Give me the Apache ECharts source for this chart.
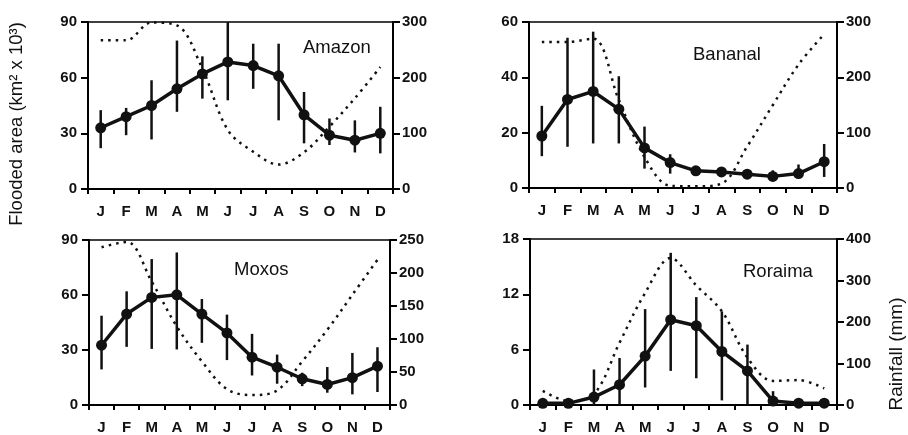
<!DOCTYPE html>
<html>
<head>
<meta charset="utf-8">
<script src="https://cdn.jsdelivr.net/npm/echarts@6/dist/echarts.min.js"></script>
<style>
  html, body { margin: 0; padding: 0; background: #fff; }
  #chart { width: 908px; height: 435px; }
</style>
</head>
<body>
<div id="chart"></div>
<script>
const months = ['J', 'F', 'M', 'A', 'M', 'J', 'J', 'A', 'S', 'O', 'N', 'D']
const sites = ['Amazon', 'Bananal', 'Moxos', 'Roraima']

// flooded area (km2 x 10^3): mean, error low, error high
const amazonArea = [33, 39, 45, 54, 62, 68.5, 66.5, 61, 40, 29, 26.3, 30]
const amazonLow = [22, 29, 26.7, 41.6, 48.7, 47.8, 54, 37, 24.6, 23.7, 19.7, 19.2]
const amazonHigh = [42.5, 43.7, 58.6, 80, 71.5, 90, 78.3, 78.3, 52.3, 38, 37, 44.3]
const bananalArea = [18.8, 32, 34.9, 28.5, 14.5, 9.2, 6.2, 5.8, 5, 4.2, 5.2, 9.5]
const bananalLow = [11.5, 14.9, 16.1, 16.1, 7, 5.2, 5.4, 5.2, 4, 2.8, 4, 4]
const bananalHigh = [29.7, 54.3, 56.5, 40.4, 22.2, 12.2, 7, 6.7, 6.2, 6.4, 8.5, 15.9]
const moxosArea = [32.6, 49.6, 58.7, 60.1, 49.6, 39.3, 26.1, 20.6, 14.3, 11.2, 14.9, 21.2]
const moxosLow = [19.4, 31.7, 30.6, 30.3, 33.9, 24.5, 16.1, 11.6, 10.3, 6.7, 5.8, 7.1]
const moxosHigh = [48.7, 62, 79.6, 83.2, 57.8, 49.3, 38.8, 27.5, 17.6, 20.7, 28.4, 31.5]
const roraimaArea = [0.18, 0.18, 0.86, 2.2, 5.3, 9.25, 8.6, 5.8, 3.7, 0.43, 0.2, 0.2]
const roraimaLow = [0.18, 0.18, 0, 0, 1.9, 3.7, 2.9, 0.5, 0, 0, 0.2, 0.2]
const roraimaHigh = [0.18, 0.18, 3.85, 5.1, 10.4, 16.5, 11.7, 10.15, 6.55, 1.5, 0.2, 0.2]

// rainfall (mm)
const amazonRain = [267, 267, 299, 294, 216, 106, 67, 44, 66, 112, 163, 219]
const bananalRain = [264, 264, 270, 159, 56, 4, 3, 8, 75, 150, 223, 278]
const moxosRain = [239, 247, 187, 119, 66, 24, 15, 22, 66, 114, 167, 220]
const roraimaRain = [34, 10, 26, 150, 270, 354, 288, 226, 114, 58, 60, 40]

// axis ranges [max, interval] for area and rainfall
const areaAxes = [[90, 30], [60, 20], [90, 30], [18, 6]]
const rainAxes = [[300, 100], [300, 100], [250, 50], [400, 100]]

const areas = [amazonArea, bananalArea, moxosArea, roraimaArea]
const lows = [amazonLow, bananalLow, moxosLow, roraimaLow]
const highs = [amazonHigh, bananalHigh, moxosHigh, roraimaHigh]
const rains = [amazonRain, bananalRain, moxosRain, roraimaRain]

const grids = [
  { left: 88, top: 22, width: 305, height: 167 },
  { left: 529, top: 22, width: 308, height: 166 },
  { left: 89, top: 240, width: 301, height: 166 },
  { left: 530, top: 239, width: 307, height: 166 }
]
const titlePos = [
  { left: 298, top: 33 },
  { left: 688, top: 40 },
  { left: 229, top: 255 },
  { left: 738, top: 257 }
]

const font = 'Liberation Sans, Arial, sans-serif'
const tickFont = { color: '#111', fontFamily: font, fontWeight: 'bold', fontSize: 15 }

const xAxis = grids.map((g, i) => ({
  type: 'category',
  gridIndex: i,
  data: months,
  boundaryGap: true,
  axisLine: { lineStyle: { color: '#000', width: 2 } },
  axisTick: { show: true, alignWithLabel: false, length: 5, lineStyle: { color: '#000', width: 2 } },
  axisLabel: { ...tickFont, margin: 15, interval: 0 },
  splitLine: { show: false }
}))

const yAxis = []
grids.forEach((g, i) => {
  yAxis.push({
    type: 'value', gridIndex: i, position: 'left',
    min: 0, max: areaAxes[i][0], interval: areaAxes[i][1],
    axisLine: { show: true, lineStyle: { color: '#000', width: 2 } },
    axisTick: { show: true, length: 7, lineStyle: { color: '#000', width: 2 } },
    axisLabel: { ...tickFont, margin: 11 },
    splitLine: { show: false }
  })
  yAxis.push({
    type: 'value', gridIndex: i, position: 'right',
    min: 0, max: rainAxes[i][0], interval: rainAxes[i][1],
    axisLine: { show: true, lineStyle: { color: '#000', width: 2 } },
    axisTick: { show: true, length: 7, lineStyle: { color: '#000', width: 2 } },
    axisLabel: { ...tickFont, margin: 9 },
    splitLine: { show: false }
  })
})

const series = []
grids.forEach((g, i) => {
  series.push({
    type: 'line',
    xAxisIndex: i, yAxisIndex: i * 2 + 1,
    data: rains[i],
    smooth: 0.35,
    symbol: 'none',
    lineStyle: { color: '#111', width: 2.5, type: [2.5, 5] },
    z: 2
  })
  series.push({
    type: 'custom',
    xAxisIndex: i, yAxisIndex: i * 2,
    data: months.map((m, k) => [k, lows[i][k], highs[i][k]]),
    renderItem: (params, api) => {
      const a = api.coord([api.value(0), api.value(1)])
      const b = api.coord([api.value(0), api.value(2)])
      return {
        type: 'line',
        shape: { x1: a[0], y1: a[1], x2: b[0], y2: b[1] },
        style: { stroke: '#111', lineWidth: 2.5 }
      }
    },
    z: 3
  })
  series.push({
    type: 'line',
    xAxisIndex: i, yAxisIndex: i * 2,
    data: areas[i],
    symbol: 'circle',
    symbolSize: 11,
    itemStyle: { color: '#111' },
    lineStyle: { color: '#111', width: 3.5 },
    z: 4
  })
})

const title = sites.map((s, i) => ({
  text: s,
  left: titlePos[i].left,
  top: titlePos[i].top,
  textStyle: { fontFamily: font, fontWeight: 'normal', fontSize: 18.5, color: '#111' }
}))

const chart = echarts.init(document.getElementById('chart'), null, { renderer: 'canvas' })
chart.setOption({
  animation: false,
  backgroundColor: '#fff',
  title,
  grid: grids.map(g => ({ ...g, show: true, borderColor: '#000', borderWidth: 1.5, backgroundColor: 'transparent' })),
  xAxis,
  yAxis,
  series,
  graphic: [
    {
      type: 'text', x: 17, y: 124, rotation: Math.PI / 2,
      style: { text: 'Flooded area (km² x 10³)', fontFamily: font, fontSize: 18.5, fill: '#111', align: 'center', verticalAlign: 'middle' }
    },
    {
      type: 'text', x: 897, y: 354, rotation: Math.PI / 2,
      style: { text: 'Rainfall (mm)', fontFamily: font, fontSize: 19, fill: '#111', align: 'center', verticalAlign: 'middle' }
    }
  ]
})
</script>
</body>
</html>
